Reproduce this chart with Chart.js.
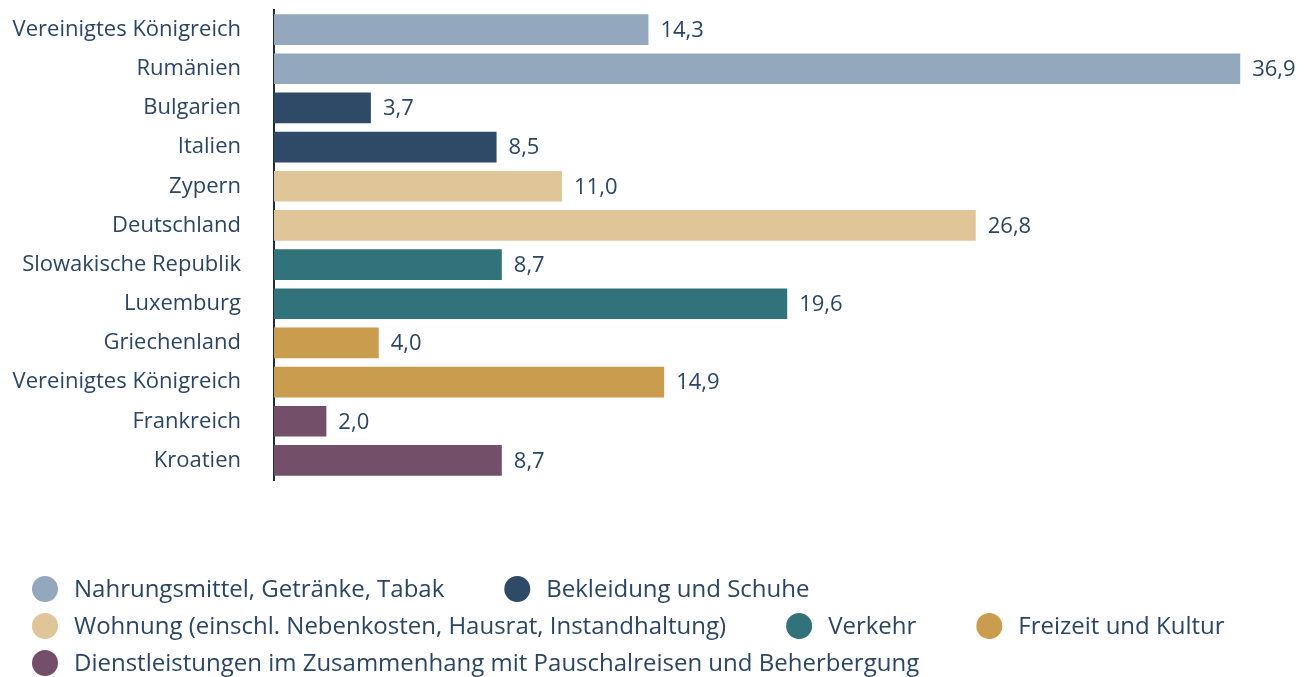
<!DOCTYPE html>
<html>
<head>
<meta charset="utf-8">
<script src="https://cdn.jsdelivr.net/npm/chart.js@4"></script>
<style>
  html, body { margin: 0; padding: 0; background: #fff; overflow: hidden; }
  #wrap { width: 1304px; height: 677px; position: relative; }
</style>
</head>
<body>
<div id="wrap"><canvas id="chart"></canvas></div>
<script>
// categories (top to bottom) and their values
const countries = [
    "Vereinigtes Königreich", "Rumänien", "Bulgarien", "Italien",
    "Zypern", "Deutschland", "Slowakische Republik", "Luxemburg",
    "Griechenland", "Vereinigtes Königreich", "Frankreich", "Kroatien"
];
const values = [14.3, 36.9, 3.7, 8.5, 11.0, 26.8, 8.7, 19.6, 4.0, 14.9, 2.0, 8.7];

// which group each category belongs to
const groupOf = [0, 0, 1, 1, 2, 2, 3, 3, 4, 4, 5, 5];
const groupNames = [
    "Nahrungsmittel, Getränke, Tabak",
    "Bekleidung und Schuhe",
    "Wohnung (einschl. Nebenkosten, Hausrat, Instandhaltung)",
    "Verkehr",
    "Freizeit und Kultur",
    "Dienstleistungen im Zusammenhang mit Pauschalreisen und Beherbergung"
];
const groupColors = ["#93a8bc", "#2e4a66", "#e0c598", "#32727a", "#c99c4e", "#744f69"];

const textColor = "#2b4563";
const fontFamily = "'Open Sans', 'Noto Sans', sans-serif";

const datasets = groupNames.map((name, g) => ({
    label: name,
    data: values.map((v, i) => groupOf[i] === g ? v : null),
    backgroundColor: groupColors[g],
    borderWidth: 0,
    barPercentage: 0.8,
    categoryPercentage: 0.98
}));

// value labels at the end of each bar
const valueLabels = {
    id: 'valueLabels',
    afterDatasetsDraw(chart) {
        const ctx = chart.ctx;
        ctx.save();
        ctx.font = "22px " + fontFamily;
        ctx.fillStyle = textColor;
        ctx.textAlign = "left";
        ctx.textBaseline = "middle";
        chart.data.datasets.forEach((ds, di) => {
            chart.getDatasetMeta(di).data.forEach((bar, i) => {
                if (ds.data[i] == null) return;
                ctx.fillText(ds.data[i].toFixed(1).replace('.', ','), bar.x + 12, bar.y + 1);
            });
        });
        ctx.restore();
    }
};

// legend drawn below the plot, left aligned, wrapping rows
const bottomLegend = {
    id: 'bottomLegend',
    afterDraw(chart) {
        const ctx = chart.ctx;
        ctx.save();
        ctx.font = "24px " + fontFamily;
        ctx.textBaseline = "middle";
        ctx.textAlign = "left";
        const startX = 32, maxX = 1300;
        let x = startX, y = 590;
        groupNames.forEach((name, g) => {
            const w = 42 + ctx.measureText(name).width;
            if (x > startX && x + w > maxX) {
                x = startX;
                y += 37;
            }
            ctx.fillStyle = groupColors[g];
            ctx.beginPath();
            ctx.arc(x + 13, y - 1, 13, 0, Math.PI * 2);
            ctx.fill();
            ctx.fillStyle = textColor;
            ctx.fillText(name, x + 42, y);
            x += w + 60;
        });
        ctx.restore();
    }
};

new Chart(document.getElementById('chart'), {
    type: 'bar',
    data: { labels: countries, datasets: datasets },
    options: {
        indexAxis: 'y',
        responsive: true,
        maintainAspectRatio: false,
        animation: false,
        layout: { padding: { top: 10, right: 35, bottom: 197, left: 0 } },
        plugins: {
            legend: { display: false },
            tooltip: { enabled: false }
        },
        scales: {
            x: {
                display: false,
                stacked: true,
                min: 0,
                max: 38
            },
            y: {
                stacked: true,
                afterFit(scale) {
                    scale.width = 274;
                    scale.paddingTop = 0;
                    scale.paddingBottom = 0;
                },
                grid: { display: false, drawTicks: false },
                border: { display: true, color: "#1f2d3d", width: 2 },
                ticks: {
                    color: textColor,
                    padding: 33,
                    font: { family: fontFamily, size: 22 }
                }
            }
        }
    },
    plugins: [valueLabels, bottomLegend]
});
</script>
</body>
</html>
